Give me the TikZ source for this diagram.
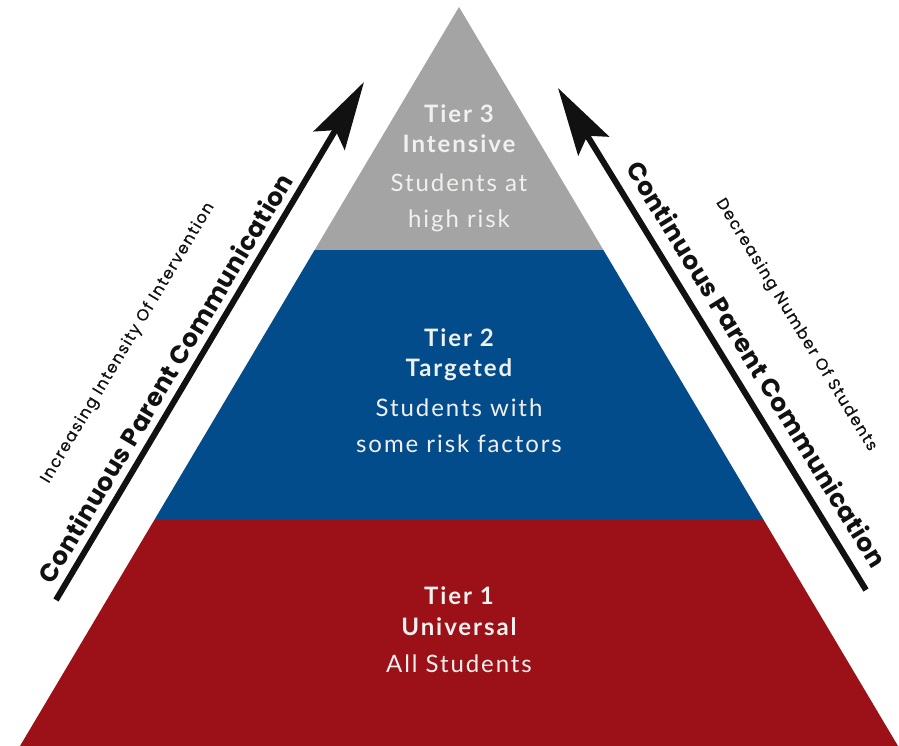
\documentclass[tikz,border=0pt]{standalone}
\usepackage{fontspec}
\usetikzlibrary{arrows.meta}
\newfontfamily\tierfont{Lato}[LetterSpace=8.0]
\newfontfamily\arrowfont{Poppins}[LetterSpace=2.0]
\newfontfamily\smallfont{Poppins}[LetterSpace=9.0, FakeBold=0.6]
\definecolor{tgrey}{HTML}{A4A4A4}
\definecolor{tblue}{HTML}{034C8C}
\definecolor{tred}{HTML}{9B1117}
\definecolor{ttext}{HTML}{F0F0EE}
\definecolor{ink}{HTML}{111111}
\begin{document}
\begin{tikzpicture}[x=1pt,y=-1pt,
  tierhead/.style={text=ttext, anchor=base, inner sep=0pt, font=\tierfont\fontsize{24}{24}\selectfont\bfseries},
  tierbody/.style={text=ttext, anchor=base, inner sep=0pt, font=\tierfont\fontsize{24}{24}\selectfont},
  biglabel/.style={text=ink, inner sep=0pt, font=\arrowfont\fontsize{25}{25}\selectfont\bfseries},
  smalllabel/.style={text=ink, inner sep=0pt, font=\smallfont\fontsize{16}{16}\selectfont},
  bigarrow/.style={draw=ink, line width=6pt, -{Stealth[length=68pt, width=36pt, inset=12pt]}}
]
\useasboundingbox (0,0) rectangle (899,746);
% pyramid
\fill[tgrey] (459,7) -- (603.4,250) -- (314.6,250) -- cycle;
\fill[tblue] (314.6,250) -- (603.4,250) -- (763.7,520) -- (154.3,520) -- cycle;
\fill[tred] (154.3,520) -- (763.7,520) -- (898,746) -- (20,746) -- cycle;
% tier 3
\node[tierhead] (t3a) at (459,123) {Tier 3};
\node[tierhead] (t3b) at (459,153) {Intensive};
\node[tierbody] (t3c) at (459,192) {Students at};
\node[tierbody] (t3d) at (459,227) {high risk};
% tier 2
\node[tierhead] (t2a) at (459,346) {Tier 2};
\node[tierhead] (t2b) at (459,376) {Targeted};
\node[tierbody] (t2c) at (459,416) {Students with};
\node[tierbody] (t2d) at (459,452) {some risk factors};
% tier 1
\node[tierhead] (t1a) at (459,604) {Tier 1};
\node[tierhead] (t1b) at (459,635) {Universal};
\node[tierbody] (t1c) at (459,672) {All Students};
% arrows
\coordinate (Ltail) at (56,600);
\coordinate (Lhead) at (364,82);
\coordinate (Rtail) at (866,590);
\coordinate (Rhead) at (558,88);
\draw[bigarrow] (Ltail) -- (Lhead);
\draw[bigarrow] (Rtail) -- (Rhead);
% labels
\node[biglabel, rotate=59.2] (lbig) at (165,378) {Continuous Parent Communication};
\node[smalllabel, rotate=59.2] (lsmall) at (128,343) {Increasing Intensity Of Intervention};
\node[biglabel, rotate=-58.4] (rbig) at (757,364) {Continuous Parent Communication};
\node[smalllabel, rotate=-58.4] (rsmall) at (796,325) {Decreasing Number Of Students};
\end{tikzpicture}
\end{document}
